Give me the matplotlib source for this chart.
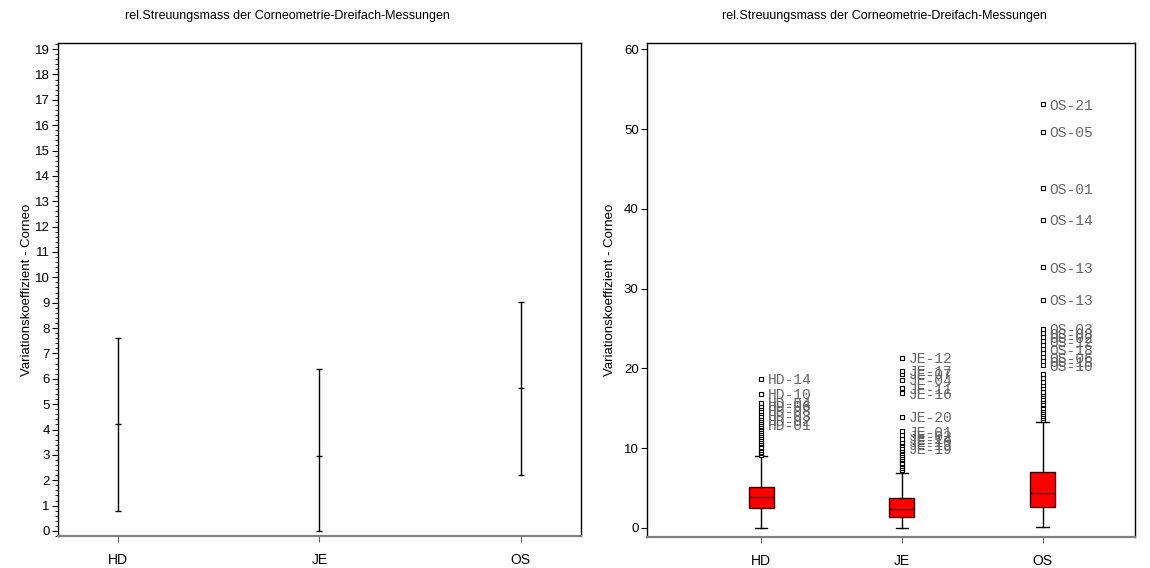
import matplotlib
matplotlib.use("Agg")
import matplotlib.pyplot as plt
from matplotlib.ticker import MultipleLocator

# ---------------------------------------------------------------
# Daten
# ---------------------------------------------------------------
gruppen = ["HD", "JE", "OS"]
titel = "rel.Streuungsmass der Corneometrie-Dreifach-Messungen"
y_label = "Variationskoeffizient - Corneo"

# linkes Bild: Mittelwert mit unterer / oberer Grenze
mittel = [4.2, 2.97, 5.62]
untere = [0.8, 0.0, 2.2]
obere = [7.6, 6.39, 9.04]

# rechtes Bild: Boxplot-Kennwerte
w_unten = [0.0, 0.0, 0.15]
q1 = [2.47, 1.42, 2.6]
median = [3.88, 2.38, 4.4]
q3 = [5.1, 3.72, 7.0]
w_oben = [9.06, 6.93, 13.3]

# Ausreisser je Gruppe
hd_aus = [9.2, 9.4, 9.5, 9.8, 10.0, 10.2, 10.5, 10.7, 10.9, 11.2, 11.4, 11.6,
          11.9, 12.1, 12.4, 12.6, 12.8, 13.0, 13.3, 13.5, 13.8, 14.1, 14.4,
          14.7, 15.0, 15.3, 15.7, 16.8, 18.7]
je_aus = [7.1, 7.3, 7.5, 7.8, 8.0, 8.2, 8.5, 8.7, 8.9, 9.2, 9.4, 9.6, 9.8,
          10.0, 10.4, 10.6, 10.8, 11.2, 11.6, 12.1, 13.95, 16.9, 17.5, 18.6,
          19.3, 19.7, 21.3]
os_aus = [13.5, 13.8, 14.0, 14.3, 14.6, 14.8, 15.1, 15.4, 15.6, 15.9, 16.2,
          16.5, 16.8, 17.1, 17.5, 17.9, 18.3, 18.8, 19.3, 20.4, 20.9, 21.4,
          21.9, 22.4, 22.9, 23.4, 23.9, 24.4, 25.0, 28.6, 32.7, 38.6, 42.6,
          49.7, 53.1]

# beschriftete Ausreisser (Wert, Probanden-ID)
hd_werte = [18.7, 16.8, 15.7, 15.3, 14.7, 14.1, 13.5, 13.0]
hd_ids = ["HD-14", "HD-10", "HD-04", "HD-06", "HD-08", "HD-03", "HD-02", "HD-01"]
je_werte = [21.3, 19.7, 19.3, 18.6, 17.5, 16.9, 13.95, 12.1, 11.6, 11.2, 10.8,
            10.4, 10.0]
je_ids = ["JE-12", "JE-17", "JE-07", "JE-04", "JE-11", "JE-16", "JE-20",
          "JE-01", "JE-02", "JE-14", "JE-10", "JE-13", "JE-19"]
os_werte = [53.1, 49.7, 42.6, 38.6, 32.7, 28.6, 25.0, 24.4, 23.9, 23.4, 22.4,
            21.4, 20.9, 20.4]
os_ids = ["OS-21", "OS-05", "OS-01", "OS-14", "OS-13", "OS-13", "OS-03",
          "OS-08", "OS-02", "OS-12", "OS-18", "OS-06", "OS-15", "OS-10"]

ausreisser = [hd_aus, je_aus, os_aus]
beschriftet = [(hd_werte, hd_ids), (je_werte, je_ids), (os_werte, os_ids)]

# ---------------------------------------------------------------
# Grafik
# ---------------------------------------------------------------
plt.rcParams["font.family"] = ["Liberation Sans", "DejaVu Sans"]

fig = plt.figure(figsize=(11.5, 5.68), dpi=100)
ax1 = fig.add_axes([0.0504, 0.0563, 0.4548, 0.868])
ax2 = fig.add_axes([0.5626, 0.0546, 0.4243, 0.8697])

x = [1, 2, 3]


def achsen_stil(ax):
    for s in ["left", "top", "right"]:
        ax.spines[s].set_color("black")
        ax.spines[s].set_linewidth(1.0)
    ax.spines["bottom"].set_color("#808080")
    ax.spines["bottom"].set_linewidth(1.6)
    ax.set_xticks(x)
    ax.set_xticklabels(gruppen, fontsize=10)
    ax.tick_params(axis="x", direction="out", length=4, color="#606060", pad=8)
    ax.tick_params(axis="y", direction="out", length=4, labelsize=9.5, pad=2)


# --- links: Mittelwert und Streubereich
err_unten = [m - u for m, u in zip(mittel, untere)]
err_oben = [o - m for m, o in zip(mittel, obere)]
ax1.errorbar(x, mittel, yerr=[err_unten, err_oben], fmt="_", color="black",
             ecolor="black", elinewidth=1.0, capsize=2.5, capthick=1.0,
             markersize=5, markeredgewidth=1.0)
ax1.set_xlim(0.7, 3.3)
ax1.set_ylim(-0.2, 19.24)
ax1.yaxis.set_major_locator(MultipleLocator(1))
ax1.yaxis.set_minor_locator(MultipleLocator(0.2))
ax1.tick_params(axis="y", which="minor", length=2)
achsen_stil(ax1)
ax1.set_ylabel(y_label, fontsize=9.5)
ax1.yaxis.set_label_coords(-0.047, 0.5)

# --- rechts: Boxplots mit Ausreissern
stats = []
for i in range(3):
    stats.append({"whislo": w_unten[i], "q1": q1[i], "med": median[i],
                  "q3": q3[i], "whishi": w_oben[i], "fliers": ausreisser[i]})

ax2.bxp(stats, positions=x, widths=0.177, patch_artist=True,
        showfliers=True,
        boxprops=dict(facecolor="#ff0000", edgecolor="#3a0000", linewidth=1.0),
        medianprops=dict(color="#1a0000", linewidth=1.0),
        whiskerprops=dict(color="black", linewidth=1.0),
        capprops=dict(color="black", linewidth=1.0),
        flierprops=dict(marker="s", markersize=3.5, markerfacecolor="white",
                        markeredgecolor="black", markeredgewidth=0.8))

for i, (werte, ids) in enumerate(beschriftet):
    for w, name in zip(werte, ids):
        ax2.annotate(name, xy=(x[i], w), xytext=(5, -1),
                     textcoords="offset points", va="center", ha="left",
                     fontsize=10.5, family="Liberation Mono", color="#666666")

ax2.set_xlim(0.19, 3.655)
ax2.set_ylim(-1.13, 60.8)
ax2.set_yticks([0, 10, 20, 30, 40, 50, 60])
achsen_stil(ax2)
ax2.set_ylabel(y_label, fontsize=9.5)
ax2.yaxis.set_label_coords(-0.064, 0.5)

fig.text(0.25, 0.972, titel, ha="center", va="center", fontsize=9)
fig.text(0.769, 0.972, titel, ha="center", va="center", fontsize=9)

fig.savefig("out.png", dpi=100)
